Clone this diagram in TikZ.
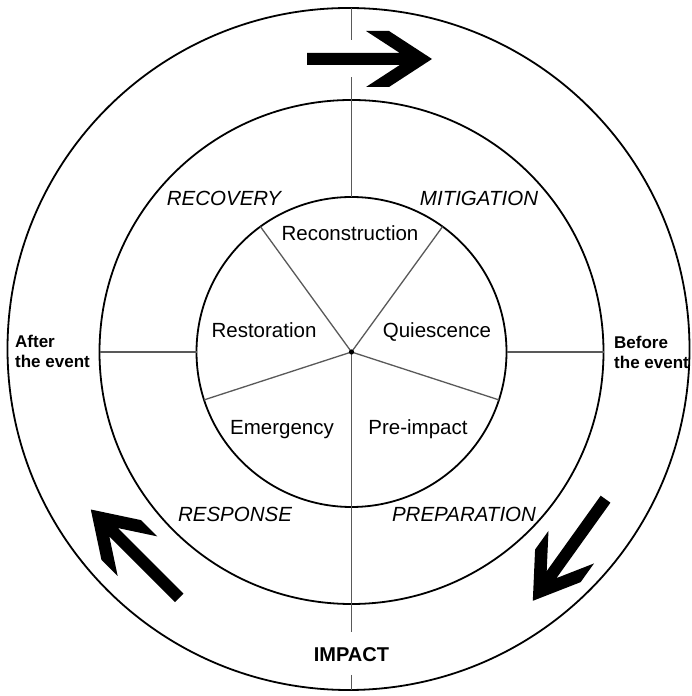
\documentclass[tikz,border=0pt]{standalone}
\usepackage{fontspec}
\setmainfont{Liberation Sans}
\usetikzlibrary{calc}
\begin{document}
\begin{tikzpicture}[x=1pt,y=1pt,
  ring/.style={line width=1.8pt, black},
  spoke/.style={line width=1.3pt, black!65},
  phase/.style={font=\fontsize{20.5}{24}\selectfont, anchor=base, inner sep=0pt},
  stage/.style={font=\fontsize{20.5}{24}\selectfont\itshape, anchor=base, inner sep=0pt},
  timing/.style={font=\fontsize{17}{20}\selectfont\bfseries, anchor=base west, inner sep=0pt},
  impact/.style={font=\fontsize{20}{24}\selectfont\bfseries, anchor=base, inner sep=0pt},
  bigarrow/.pic={
    \fill (-62.5,6) -- (30.3,6) -- (-3.5,28) -- (19.5,28) -- (62.5,0)
      -- (19.5,-28) -- (-3.5,-28) -- (30.3,-6) -- (-62.5,-6) -- cycle;
  }]
\useasboundingbox (0,0) rectangle (691,696);
\fill[white] (0,0) rectangle (691,696);

% centres of the rings
\coordinate (C) at (351.5,344);
\coordinate (O) at (348.5,347);

% three rings
\draw[ring] (O) circle[radius=341];
\draw[ring] (C) circle[radius=252];
\draw[ring] (C) circle[radius=155];

% five sectors of the inner disc
\foreach \a in {-18,54,126,198}
  \draw[spoke] (C) -- ++(\a:155);

% vertical axis: top half (gap for the arrow), bottom half (gap for IMPACT)
\coordinate (innerTop) at ($(C)+(0,155)$);
\coordinate (topGapA) at (351.5,619);
\coordinate (topGapB) at (351.5,656);
\coordinate (outerTop) at (351.5,688);
\draw[spoke] (innerTop) -- (topGapA);
\draw[spoke] (topGapB) -- (outerTop);

\coordinate (botGapA) at (351.5,64);
\coordinate (botGapB) at (351.5,21);
\coordinate (outerBot) at (351.5,6);
\draw[spoke] (C) -- (botGapA);
\draw[spoke] (botGapB) -- (outerBot);

% horizontal axis between inner and middle rings
\draw[spoke] ($(C)+(-252,0)$) -- ($(C)+(-155,0)$);
\draw[spoke] ($(C)+(155,0)$) -- ($(C)+(252,0)$);

% centre point
\fill (C) circle[radius=2.6];

% phases in the inner disc
\node[phase] (recon) at (350,455.3) {Reconstruction};
\node[phase] (resto) at (264,358.3) {Restoration};
\node[phase] (quies) at (437,358.3) {Quiescence};
\node[phase] (emerg) at (282,261) {Emergency};
\node[phase] (preimp) at (418,261) {Pre-impact};

% stages in the middle ring
\node[stage] (recov) at (224,490) {RECOVERY};
\node[stage] (mitig) at (479,490) {MITIGATION};
\node[stage] (respo) at (235,174.3) {RESPONSE};
\node[stage] (prepa) at (464,174) {PREPARATION};

% timing labels in the outer ring
\node[timing] (after1) at (15,348) {After};
\node[timing] (after2) at (15,328) {the event};
\node[timing] (before1) at (614,347) {Before};
\node[timing] (before2) at (614,327) {the event};
\node[impact] (impact) at (351.5,34) {IMPACT};

% direction of the cycle
\pic at (369.5,637) {bigarrow};
\pic[rotate=135] at (135,142.3) {bigarrow};
\pic[rotate=234.4] at (569.2,146) {bigarrow};
\end{tikzpicture}
\end{document}
